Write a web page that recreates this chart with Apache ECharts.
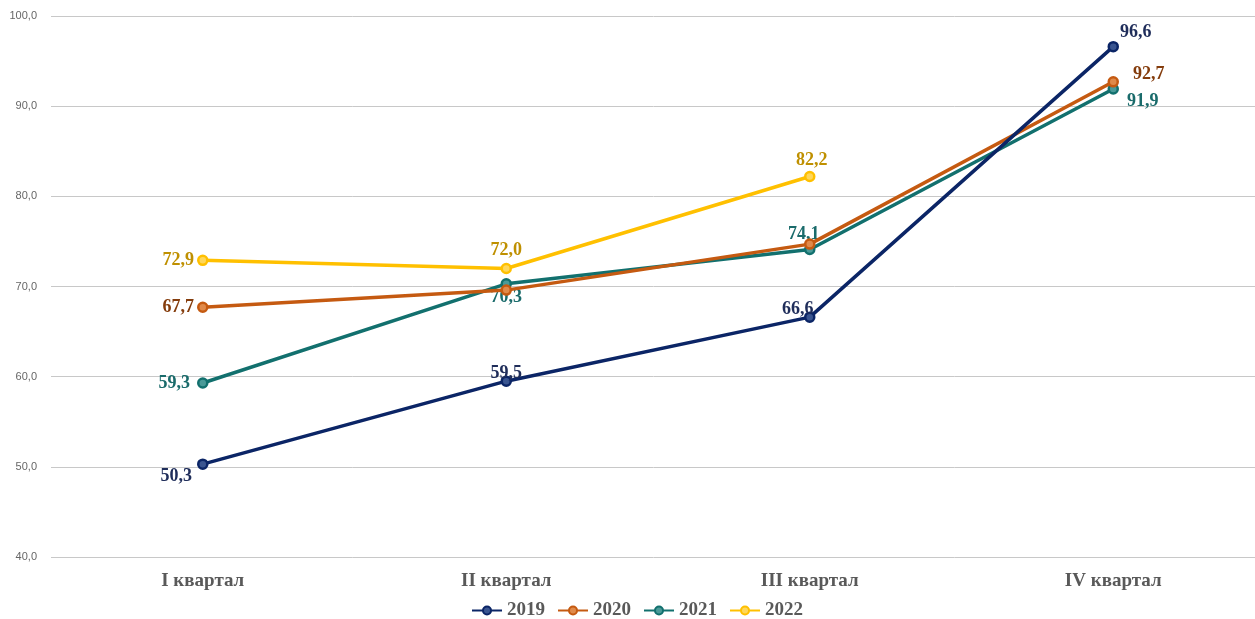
<!DOCTYPE html>
<html>
<head>
<meta charset="utf-8">
<script src="https://cdn.jsdelivr.net/npm/echarts@6/dist/echarts.min.js"></script>
<style>
  html, body { margin: 0; padding: 0; background: #fff; }
  #chart { width: 1255px; height: 619px; }
</style>
</head>
<body>
<div id="chart"></div>
<script>
var categories = ['I квартал', 'II квартал', 'III квартал', 'IV квартал'];
var years = ['2019', '2020', '2021', '2022'];
var v2019 = [50.3, 59.5, 66.6, 96.6];
var v2020 = [67.7, 69.6, 74.7, 92.7];
var v2021 = [59.3, 70.3, 74.1, 91.9];
var v2022 = [72.9, 72.0, 82.2];

var lineColors = ['#0b2566', '#c55a11', '#12706e', '#ffc000'];
var markerFill = ['#3a5590', '#e08a4a', '#4a9a98', '#ffd75a'];
var labelColors = ['#1f2d5a', '#843c0c', '#1a6b6b', '#bf9000'];

// label placement per point: [position, offsetX, offsetY] or null = hidden
var labelPos = [
  [['left', 0, 12], ['top', 0, 12], ['top', -12, 12], ['right', -4, -14]],
  [['left', 2, 0], null, null, ['right', 9, -7]],
  [['left', -2, 0], ['bottom', 0, -6], ['top', -6, 5], ['right', 3, 12]],
  [['left', 2, 0], ['top', 0, 2], ['top', 2, 4]]
];

var chart = echarts.init(document.getElementById('chart'));
var allValues = [v2019, v2020, v2021, v2022];

function fmt(v) { return v.toFixed(1).replace('.', ','); }

var series = years.map(function (y, i) {
  return {
    name: y,
    type: 'line',
    symbol: 'circle',
    symbolSize: 9,
    lineStyle: { width: 3.5, color: lineColors[i] },
    itemStyle: { color: markerFill[i], borderColor: lineColors[i], borderWidth: 2.5 },
    z: 10 - i,
    data: allValues[i].map(function (v, j) {
      var p = labelPos[i][j];
      return {
        value: v,
        label: p ? {
          show: true, position: p[0], offset: [p[1], p[2]],
          formatter: function (d) { return fmt(d.value); },
          color: labelColors[i], fontFamily: 'Liberation Serif',
          fontWeight: 'bold', fontSize: 18
        } : { show: false }
      };
    })
  };
});

chart.setOption({
  animation: false,
  grid: { left: 51, right: -10, top: 16, bottom: 62, outerBoundsMode: 'none' },
  legend: {
    bottom: -6, left: 466,
    itemWidth: 30, itemHeight: 10, itemGap: 12,
    textStyle: { fontFamily: 'Liberation Serif', fontWeight: 'bold', fontSize: 19, color: '#595959' },
    data: years
  },
  xAxis: {
    type: 'category',
    data: categories,
    axisLine: { show: false },
    axisTick: { show: false },
    axisLabel: { margin: 15, fontFamily: 'Liberation Serif', fontWeight: 'bold', fontSize: 19, color: '#595959' }
  },
  yAxis: {
    type: 'value',
    min: 40, max: 100, interval: 10,
    axisLine: { show: false },
    axisTick: { show: false },
    splitLine: { lineStyle: { color: '#c8c8c8', width: 1 } },
    axisLabel: { formatter: fmt, fontFamily: 'Liberation Sans', fontSize: 11, color: '#666666', margin: 14 }
  },
  series: series
});
</script>
</body>
</html>
